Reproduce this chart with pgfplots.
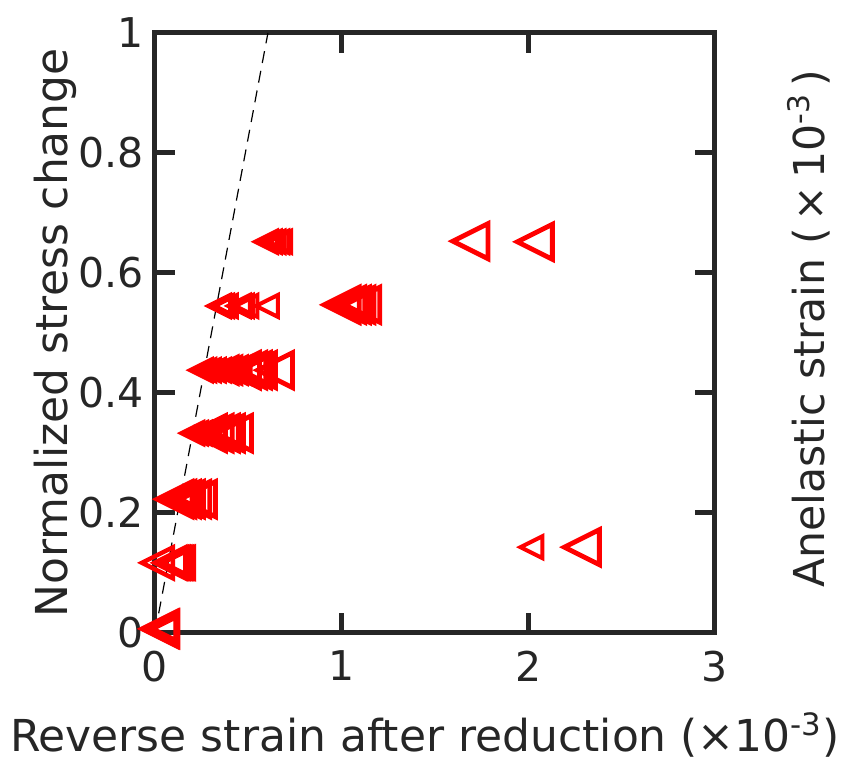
\documentclass[border=0pt]{standalone}
\usepackage{fontspec}
\setmainfont{DejaVu Sans}
\usepackage{pgfplots}
\pgfplotsset{compat=1.18}
\definecolor{axgray}{HTML}{262626}
\pgfdeclareplotmark{ltri}{%
  \pgfpathmoveto{\pgfqpoint{-\pgfplotmarksize}{0pt}}%
  \pgfpathlineto{\pgfqpoint{\pgfplotmarksize}{\pgfplotmarksize}}%
  \pgfpathlineto{\pgfqpoint{\pgfplotmarksize}{-\pgfplotmarksize}}%
  \pgfpathclose
  \pgfusepathqstroke}
\begin{document}
\begin{tikzpicture}
\begin{axis}[
  name=main,
  scale only axis,
  width=280pt, height=300pt,
  xmin=0, xmax=3, ymin=0, ymax=1,
  xtick={0,1,2,3},
  ytick={0,0.2,0.4,0.6,0.8,1},
  yticklabels={0,0.2,0.4,0.6,0.8,1},
  /pgf/number format/assume math mode=true,
  tick label style={font=\fontsize{20.5}{22}\selectfont, color=axgray},
  xticklabel style={yshift=-5.5pt},
  yticklabel style={xshift=-2pt},
  tick align=inside,
  major tick length=10pt,
  every tick/.style={axgray, line width=2.5pt},
  axis line style={axgray, line width=2.5pt},
  clip=false,
  xlabel={Reverse strain after reduction (×10\textsuperscript{-3})},
  ylabel={Normalized stress change},
  label style={font=\fontsize{22}{24}\selectfont, color=axgray, inner sep=0pt},
  xlabel style={at={(axis description cs:0.482,-0.17)}, anchor=center},
  ylabel style={at={(axis description cs:-0.178,0.5)}, anchor=center},
  extra description/.code={
    \node[rotate=90, anchor=center, inner sep=0pt, font=\fontsize{21.3}{23}\selectfont, color=axgray]
      at (axis description cs:1.167,0.507) {Anelastic strain (\,×\,10\textsuperscript{-3}\,)};
  },
]
% large markers
\addplot[only marks, mark=ltri, mark size=8.75pt, red, line width=2.4pt] coordinates {
 (0.025,0.007) (0.03,0.007)
 (0.105,0.223) (0.12,0.223) (0.145,0.223) (0.166,0.223) (0.2,0.223) (0.23,0.223)
 (0.284,0.333) (0.32,0.333) (0.353,0.333) (0.38,0.333) (0.423,0.333)
 (0.466,0.438) (0.5,0.438) (0.525,0.438) (0.552,0.438) (0.643,0.438)
 (1.0,0.547) (1.03,0.547) (1.055,0.547) (1.08,0.547) (1.11,0.547)
 (1.69,0.653) (2.035,0.652)
 (2.287,0.143)
};
% large-ish markers
\addplot[only marks, mark=ltri, mark size=7.75pt, red, line width=2.2pt] coordinates {
 (0.08,0.117) (0.089,0.117) (0.098,0.117) (0.107,0.117) (0.116,0.117) (0.125,0.117) (0.013,0.117)
};
% medium markers
\addplot[only marks, mark=ltri, mark size=6.75pt, red, line width=2pt] coordinates {
 (0.04,0.007)
 (0.14,0.223) (0.19,0.223)
 (0.37,0.438) (0.39,0.438) (0.42,0.438) (0.44,0.438)
};
% small markers
\addplot[only marks, mark=ltri, mark size=5.5pt, red, line width=2pt] coordinates {
 (0.05,0.007)
 (0.2,0.333) (0.22,0.333) (0.24,0.333) (0.26,0.333) (0.28,0.333)
 (0.246,0.438) (0.265,0.438) (0.289,0.438) (0.315,0.438) (0.343,0.438)
 (0.343,0.545) (0.36,0.545) (0.38,0.545) (0.45,0.545) (0.466,0.545) (0.49,0.545) (0.6,0.545)
 (0.595,0.652) (0.615,0.652) (0.635,0.652) (0.655,0.652) (0.67,0.652)
 (2.017,0.143)
};
\addplot[black, line width=0.6pt, dash pattern=on 6pt off 4pt] coordinates {(0,0) (0.605,1)};
\end{axis}
\pgfresetboundingbox
\path (main.south west) ++(-77.5pt,-65pt) rectangle ++(421.5pt,381.5pt);
\end{tikzpicture}
\end{document}
